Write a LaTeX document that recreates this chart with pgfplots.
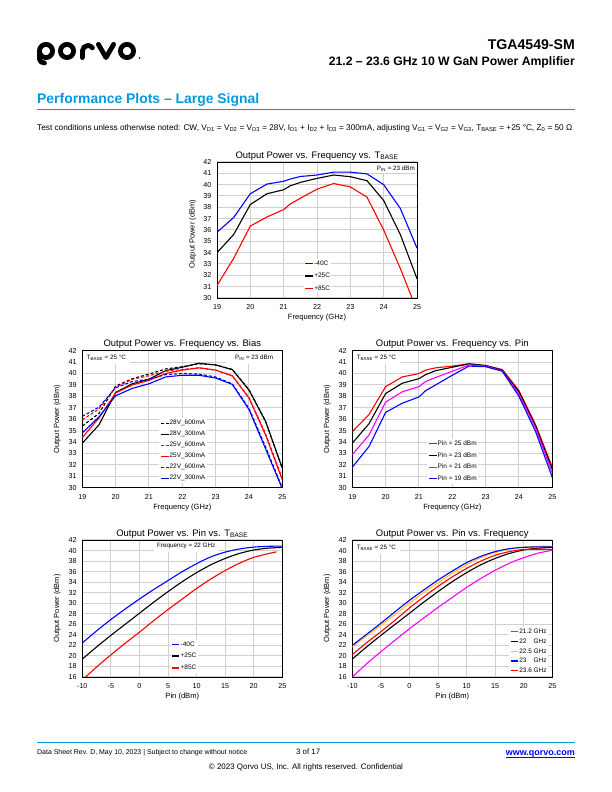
\documentclass[border=0pt]{standalone}
\usepackage{fontspec}
\setmainfont{Liberation Sans}
\usepackage{graphicx}
\usepackage{pgfplots}
\pgfplotsset{compat=1.18}
\definecolor{qblue}{RGB}{0,155,222}
\definecolor{gridgray}{RGB}{208,208,208}
\definecolor{qorange}{RGB}{255,195,30}
\definecolor{qmag}{RGB}{255,0,255}
\tikzset{ann/.style={fill=white, inner xsep=2bp, inner ysep=1.8bp, font=\fontsize{6.3}{7}\selectfont}}
\pgfplotsset{
  dsaxis/.style={
    scale only axis, width=200bp, height=137bp, anchor=south west,
    axis line style={black, line width=0.7bp},
    grid=major, major grid style={gridgray, line width=1bp},
    major tick length=0pt,
    /pgf/number format/assume math mode=true,
    ticklabel style={font=\fontsize{7.2}{8}\selectfont},
    xticklabel style={anchor=base, yshift=-11.5bp},
    yticklabel style={anchor=east, inner sep=0pt, xshift=-5.5bp},
    title style={font=\fontsize{9.5}{11}\selectfont, at={(axis description cs:0.5,1)}, anchor=base, yshift=-2bp},
    xlabel style={font=\fontsize{7.6}{9}\selectfont, at={(axis description cs:0.5,0)}, anchor=base, yshift=-21.7bp},
    ylabel style={font=\fontsize{7.5}{9}\selectfont, at={(axis description cs:-0.125,0.5)}, anchor=center},
    legend style={draw=none, fill=white, inner sep=1bp, font=\fontsize{6.5}{7}\selectfont, anchor=north west,
      nodes={inner sep=0.5bp, text height=5bp, text depth=1.5bp}},
    legend cell align=left,
    legend image code/.code={\draw[##1] (0bp,0bp) -- (8bp,0bp);},
    every axis plot/.append style={line width=1.1bp, mark=none},
  },
}
\begin{document}
\begin{tikzpicture}[x=1bp,y=1bp]
\path[use as bounding box, fill=white] (0,0) rectangle (612,792);
% ---------- logo ----------
\begin{scope}[line width=4.8bp, line cap=round, line join=round]
\draw (46,741) ellipse [x radius=6.6, y radius=6.6];
\draw (39.4,740) -- (39.4,733) to[out=-90,in=180] (44.5,729);
\draw (67,741) ellipse [x radius=6.6, y radius=6.6];
\draw (82.4,734.4) -- (82.4,741) arc[start angle=180, end angle=35, radius=5.5];
\draw (98.4,747.6) -- (106,734.4) -- (113.6,747.6);
\draw (127,741) ellipse [x radius=6.6, y radius=6.6];
\end{scope}
\fill (139.5,734) circle (0.9);
% ---------- header ----------
\node[anchor=base east, inner sep=0] at (575,742.7) {\resizebox{87bp}{!}{\bfseries TGA4549-SM}};
\node[anchor=base east, inner sep=0] at (575,726) {\resizebox{246bp}{!}{\bfseries 21.2 – 23.6 GHz 10 W GaN Power Amplifier}};
\node[anchor=base west, inner sep=0, text=qblue] at (37,688) {\resizebox{222bp}{!}{\bfseries Performance Plots – Large Signal}};
\draw[qblue, line width=1.2bp] (37,682.7) -- (575,682.7);
\node[anchor=base west, inner sep=0] at (37,661.5) {\resizebox{535bp}{!}{Test conditions unless otherwise noted: CW, V\textsubscript{D1} = V\textsubscript{D2} = V\textsubscript{D3} = 28V, I\textsubscript{D1} + I\textsubscript{D2} + I\textsubscript{D3} = 300mA, adjusting V\textsubscript{G1} = V\textsubscript{G2} = V\textsubscript{G3}, T\textsubscript{BASE} = +25 °C, Z\textsubscript{0} = 50 Ω}};
% ---------- footer ----------
\draw[qblue, line width=1.2bp] (37,49.3) -- (575,49.3);
\node[anchor=base west, inner sep=0] at (37,37) {\resizebox{210bp}{!}{Data Sheet Rev. D, May 10, 2023 | Subject to change without notice}};
\node[anchor=base west, inner sep=0] at (296,37) {\resizebox{24bp}{!}{3 of 17}};
\node[anchor=base east, inner sep=0, text=blue] at (575,36.5) {\resizebox{69bp}{!}{\bfseries www.qorvo.com}};
\draw[blue, line width=0.6bp] (506,34.8) -- (575,34.8);
\node[anchor=base, inner sep=0] at (306,22.7) {\resizebox{194bp}{!}{© 2023 Qorvo US, Inc. All rights reserved. Confidential}};

% ---------- Plot 1 ----------
\begin{axis}[dsaxis, at={(217bp,494bp)}, height=136bp,
  xmin=19, xmax=25, ymin=30, ymax=42,
  xtick={19,20,...,25}, ytick={30,31,...,42},
  title={Output Power vs. Frequency vs. T\textsubscript{BASE}},
  xlabel={Frequency (GHz)}, ylabel={Output Power (dBm)},
  ylabel style={at={(axis description cs:-0.1215,0.47)}},
  legend style={at={(axis description cs:0.4325,0.29)}, row sep=5bp},
]
\node[ann, anchor=east] at (rel axis cs:1,0.954) {P\textsubscript{IN} = 23 dBm};
\addplot[blue] coordinates {(19,35.8) (19.5,37.1) (20,39.2) (20.5,40.05) (21,40.3) (21.2,40.5) (21.5,40.72) (22,40.85) (22.5,41.1) (23,41.1) (23.5,40.95) (24,40.0) (24.5,37.9) (25,34.4)};
\addplot[black] coordinates {(19,34.0) (19.5,35.6) (20,38.25) (20.5,39.2) (21,39.55) (21.2,39.9) (21.5,40.2) (22,40.55) (22.5,40.85) (23,40.7) (23.5,40.35) (24,38.6) (24.5,35.6) (25,31.7)};
\addplot[red] coordinates {(19,31.1) (19.5,33.5) (20,36.35) (20.5,37.15) (21,37.8) (21.2,38.3) (21.5,38.8) (22,39.6) (22.5,40.1) (23,39.8) (23.5,38.9) (24,36.0) (24.5,32.6) (25,28.9)};
\legend{-40C,+25C,+85C}
\end{axis}

% ---------- Plot 2 ----------
\begin{axis}[dsaxis, at={(82.3bp,304.3bp)},
  xmin=19, xmax=25, ymin=30, ymax=42,
  xtick={19,20,...,25}, ytick={30,31,...,42},
  title={Output Power vs. Frequency vs. Bias},
  xlabel={Frequency (GHz)}, ylabel={Output Power (dBm)},
  legend style={at={(axis description cs:0.3825,0.507)}, row sep=3.5bp},
]
\node[ann, anchor=west, inner xsep=4.4bp, inner ysep=3.5bp] at (rel axis cs:0,0.947) {T\textsubscript{BASE} = 25 °C};
\node[ann, anchor=east, inner xsep=9bp, inner ysep=3.5bp] at (rel axis cs:1,0.947) {P\textsubscript{IN} = 23 dBm};
\addplot[black, dash pattern=on 3bp off 2bp] coordinates {(19,35.4) (19.5,36.5) (20,38.9) (20.5,39.55) (21,39.95) (21.5,40.4) (22,40.6) (22.5,40.85) (23,40.75) (23.5,40.35) (24,38.6) (24.5,35.8) (25,31.7)};
\addplot[black] coordinates {(19,33.9) (19.5,35.5) (20,38.35) (20.5,39.1) (21,39.5) (21.5,40.25) (22,40.55) (22.5,40.9) (23,40.75) (23.5,40.35) (24,38.55) (24.5,35.8) (25,31.7)};
\addplot[red, dash pattern=on 3bp off 2bp] coordinates {(19,35.95) (19.5,36.9) (20,38.8) (20.5,39.5) (21,39.8) (21.5,40.2) (22,40.35) (22.5,40.5) (23,40.3) (23.5,39.8) (24,37.9) (24.5,34.7) (25,30.8)};
\addplot[red] coordinates {(19,34.4) (19.5,36.1) (20,38.3) (20.5,39.0) (21,39.4) (21.5,40.0) (22,40.3) (22.5,40.5) (23,40.3) (23.5,39.8) (24,37.85) (24.5,34.6) (25,30.7)};
\addplot[blue, dash pattern=on 3bp off 2bp] coordinates {(19,36.25) (19.5,37.05) (20,38.75) (20.5,39.3) (21,39.5) (21.5,39.9) (22,40.0) (22.5,39.95) (23,39.7) (23.5,39.1) (24,36.95) (24.5,33.55) (25,30.0)};
\addplot[blue] coordinates {(19,34.8) (19.5,36.2) (20,38.05) (20.5,38.7) (21,39.1) (21.5,39.7) (22,39.85) (22.5,39.85) (23,39.6) (23.5,39.05) (24,36.85) (24.5,33.4) (25,29.9)};
\legend{28V\_600mA,28V\_300mA,25V\_600mA,25V\_300mA,22V\_600mA,22V\_300mA}
\end{axis}

% ---------- Plot 3 ----------
\begin{axis}[dsaxis, at={(352.3bp,304.3bp)},
  xmin=19, xmax=25, ymin=30, ymax=42,
  xtick={19,20,...,25}, ytick={30,31,...,42},
  title={Output Power vs. Frequency vs. Pin},
  xlabel={Frequency (GHz)}, ylabel={Output Power (dBm)},
  legend style={at={(axis description cs:0.3725,0.357)}, row sep=4.2bp},
]
\node[ann, anchor=west, inner xsep=4.4bp, inner ysep=3.5bp] at (rel axis cs:0,0.947) {T\textsubscript{BASE} = 25 °C};
\addplot[red] coordinates {(19,34.9) (19.5,36.4) (20,38.85) (20.5,39.7) (21,40.0) (21.2,40.3) (21.5,40.5) (22,40.65) (22.5,40.85) (23,40.7) (23.5,40.35) (24,38.5) (24.5,35.5) (25,31.8)};
\addplot[black] coordinates {(19,33.9) (19.5,35.6) (20,38.25) (20.5,39.15) (21,39.55) (21.2,39.9) (21.5,40.25) (22,40.55) (22.5,40.85) (23,40.7) (23.5,40.3) (24,38.4) (24.5,35.4) (25,31.6)};
\addplot[qmag] coordinates {(19,32.9) (19.5,34.6) (20,37.5) (20.5,38.4) (21,38.85) (21.2,39.3) (21.5,39.65) (22,40.2) (22.5,40.75) (23,40.65) (23.5,40.25) (24,38.2) (24.5,35.2) (25,31.3)};
\addplot[blue] coordinates {(19,31.8) (19.5,33.6) (20,36.6) (20.5,37.4) (21,37.95) (21.2,38.5) (21.5,39.0) (22,39.85) (22.5,40.65) (23,40.6) (23.5,40.2) (24,38.0) (24.5,34.9) (25,30.9)};
\legend{Pin = 25 dBm,Pin = 23 dBm,Pin = 21 dBm,Pin = 19 dBm}
\end{axis}

% ---------- Plot 4 ----------
\begin{axis}[dsaxis, at={(82.3bp,115bp)},
  xmin=-10, xmax=25, ymin=16, ymax=42,
  xtick={-10,-5,...,25}, ytick={16,18,...,42},
  title={Output Power vs. Pin vs. T\textsubscript{BASE}},
  xlabel={Pin (dBm)}, ylabel={Output Power (dBm)},
  legend style={at={(axis description cs:0.441,0.274)}, row sep=4.2bp},
  legend image code/.code={\draw[#1, line width=1.5bp] (0bp,0bp) -- (7bp,0bp);},
]
\node[ann, anchor=west, inner xsep=3bp, inner ysep=2.5bp] at (rel axis cs:0.3585,0.954) {Frequency = 22 GHz};
\addplot[blue, smooth] coordinates {(-10,22.45) (-7.5,24.75) (-5,26.9) (-2.5,28.9) (0,30.8) (2.5,32.6) (5,34.3) (7.5,36.0) (10,37.5) (12.5,38.8) (15,39.7) (17.5,40.3) (20,40.65) (22.5,40.8) (25,40.85)};
\addplot[black, smooth] coordinates {(-10,19.4) (-7.5,21.7) (-5,23.9) (-2.5,26.0) (0,28.1) (2.5,30.2) (5,32.2) (7.5,34.1) (10,35.8) (12.5,37.3) (15,38.5) (17.5,39.45) (20,40.1) (22.5,40.45) (25,40.6)};
\addplot[red, smooth] coordinates {(-10,15.4) (-7.5,17.9) (-5,20.2) (-2.5,22.4) (0,24.5) (2.5,26.7) (5,28.8) (7.5,30.8) (10,32.8) (12.5,34.6) (15,36.2) (17.5,37.6) (20,38.7) (22.5,39.4) (24,39.75)};
\legend{-40C,+25C,+85C}
\end{axis}

% ---------- Plot 5 ----------
\begin{axis}[dsaxis, at={(352.3bp,115bp)},
  xmin=-10, xmax=25, ymin=16, ymax=42,
  xtick={-10,-5,...,25}, ytick={16,18,...,42},
  title={Output Power vs. Pin vs. Frequency},
  xlabel={Pin (dBm)}, ylabel={Output Power (dBm)},
  legend style={at={(axis description cs:0.7825,0.366)}, row sep=2.25bp},
  legend image code/.code={\draw[#1, line width=1.3bp] (0bp,0bp) -- (7.5bp,0bp);},
]
\node[ann, anchor=west, inner xsep=4.4bp, inner ysep=3.5bp] at (rel axis cs:0,0.944) {T\textsubscript{BASE} = 25 °C};
\addplot[qmag, smooth] coordinates {(-10,16.0) (-7.5,18.5) (-5,20.8) (-2.5,23.0) (0,25.15) (2.5,27.2) (5,29.2) (7.5,31.1) (10,33.0) (12.5,34.7) (15,36.25) (17.5,37.6) (20,38.65) (22.5,39.5) (25,40.05)};
\addplot[black, smooth] coordinates {(-10,19.4) (-7.5,21.7) (-5,23.9) (-2.5,26.0) (0,28.1) (2.5,30.2) (5,32.2) (7.5,34.1) (10,35.8) (12.5,37.3) (15,38.5) (17.5,39.45) (20,40.1) (22.5,40.45) (25,40.6)};
\addplot[qorange, smooth] coordinates {(-10,21.7) (-7.5,23.8) (-5,25.8) (-2.5,27.9) (0,30.0) (2.5,32.0) (5,33.9) (7.5,35.7) (10,37.3) (12.5,38.65) (15,39.6) (17.5,40.3) (20,40.65) (22.5,40.8) (25,40.8)};
\addplot[blue, smooth] coordinates {(-10,22.0) (-7.5,24.1) (-5,26.2) (-2.5,28.4) (0,30.55) (2.5,32.5) (5,34.4) (7.5,36.1) (10,37.7) (12.5,38.9) (15,39.8) (17.5,40.35) (20,40.6) (22.5,40.7) (25,40.7)};
\addplot[red, smooth] coordinates {(-10,20.25) (-7.5,22.5) (-5,24.6) (-2.5,26.8) (0,29.1) (2.5,31.2) (5,33.2) (7.5,35.0) (10,36.6) (12.5,38.0) (15,39.1) (17.5,39.8) (20,40.2) (22.5,40.25) (25,40.2)};
\legend{21.2 GHz,22\hphantom{.5} GHz,22.5 GHz,23\hphantom{.6} GHz,23.6 GHz}
\end{axis}
\end{tikzpicture}
\end{document}
